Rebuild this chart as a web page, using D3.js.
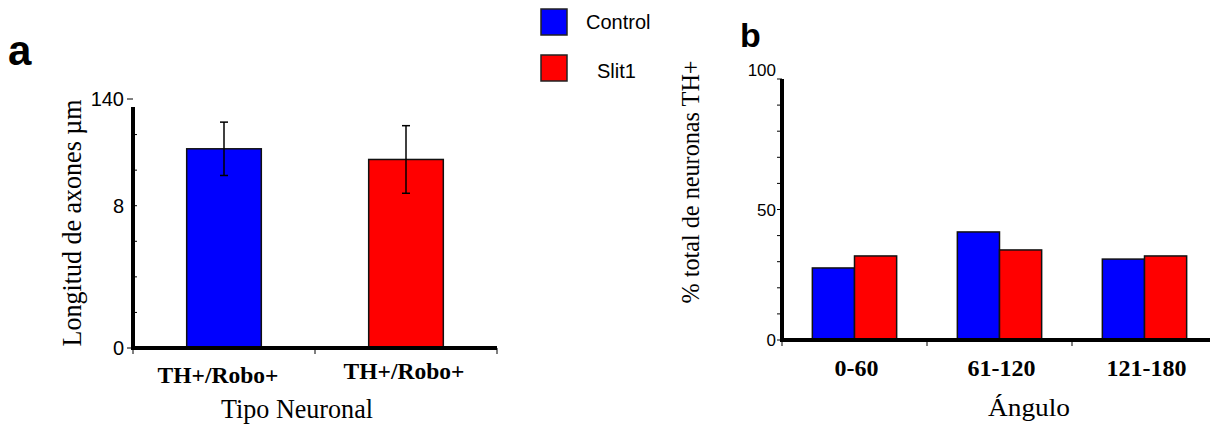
<!DOCTYPE html>
<html>
<head>
<meta charset="utf-8">
<script src="https://cdn.jsdelivr.net/npm/d3@7"></script>
<style>
  body { margin: 0; background: #fff; }
  text { fill: #000; }
</style>
</head>
<body>
<div id="chart"></div>
<script>
// Data
var seriesNames = ["Control", "Slit1"];
var seriesColors = ["#0000ff", "#ff0000"];

// panel a
var categoriesA = ["TH+/Robo+", "TH+/Robo+"];
var valuesA = [112, 106];
var errorsA = [15, 19];
var yTicksA = [0, 20, 40, 60, 80, 100, 120, 140];
var yTickLabelsA = ["0", "", "", "", "8", "", "", "140"];

// panel b
var categoriesB = ["0-60", "61-120", "121-180"];
var controlB = [27.6, 41.4, 31.0];
var slitB = [32.2, 34.5, 32.2];
var yTicksB = [0, 10, 20, 30, 40, 50, 60, 70, 80, 90, 100];
var yTickLabelsB = ["0", "", "", "", "", "50", "", "", "", "", "100"];

var serif = "'Liberation Serif', 'Times New Roman', serif";
var sans = "'Liberation Sans', Arial, sans-serif";

var svg = d3.select("#chart")
    .append("svg")
        .attr("width", 1210)
        .attr("height", 425);

// ---------- Panel a ----------
var xA = d3.scaleBand()
    .domain(d3.range(categoriesA.length))
    .range([133, 497]);

var yA = d3.scaleLinear()
    .domain([0, 140])
    .range([348, 99]);

var gA = svg.append("g");

// bars
var barW_A = xA.bandwidth() * 0.41;
gA.selectAll(".barA")
    .data(valuesA)
    .enter()
    .append("rect")
    .attr("class", "barA")
    .attr("x", function(d, i) { return xA(i) + xA.bandwidth() / 2 - barW_A / 2; })
    .attr("y", function(d) { return yA(d); })
    .attr("width", barW_A)
    .attr("height", function(d) { return yA(0) - yA(d); })
    .style("fill", function(d, i) { return seriesColors[i]; })
    .style("stroke", "#111")
    .style("stroke-width", 1.5);

// error bars
var errA = gA.selectAll(".errA")
    .data(valuesA)
    .enter()
    .append("g")
    .attr("class", "errA")
    .attr("transform", function(d, i) { return "translate(" + (xA(i) + xA.bandwidth() / 2) + ",0)"; });

errA.append("line")
    .attr("y1", function(d, i) { return yA(d + errorsA[i]); })
    .attr("y2", function(d, i) { return yA(d - errorsA[i]); })
    .style("stroke", "#000").style("stroke-width", 1.5);
errA.append("line")
    .attr("x1", -4).attr("x2", 4)
    .attr("y1", function(d, i) { return yA(d + errorsA[i]); })
    .attr("y2", function(d, i) { return yA(d + errorsA[i]); })
    .style("stroke", "#000").style("stroke-width", 1.5);
errA.append("line")
    .attr("x1", -4).attr("x2", 4)
    .attr("y1", function(d, i) { return yA(d - errorsA[i]); })
    .attr("y2", function(d, i) { return yA(d - errorsA[i]); })
    .style("stroke", "#000").style("stroke-width", 1.5);

// y ticks
gA.selectAll(".tickA")
    .data(yTicksA)
    .enter()
    .append("line")
    .attr("x1", function(d, i) { return yTickLabelsA[i] === "" || yTickLabelsA[i] === "8" ? 133 : 127; })
    .attr("x2", function(d, i) { return yTickLabelsA[i] === "" || yTickLabelsA[i] === "8" ? 137 : 133; })
    .attr("y1", function(d) { return yA(d); })
    .attr("y2", function(d) { return yA(d); })
    .style("stroke", "#000").style("stroke-width", 1);

gA.selectAll(".tickLabelA")
    .data(yTicksA)
    .enter()
    .append("text")
    .attr("x", 124)
    .attr("y", function(d) { return yA(d); })
    .attr("dy", "0.36em")
    .attr("text-anchor", "end")
    .style("font-family", sans)
    .style("font-size", "20px")
    .text(function(d, i) { return yTickLabelsA[i]; });

// axis lines
gA.append("line")
    .attr("x1", 133).attr("x2", 133)
    .attr("y1", yA(140) + 8).attr("y2", yA(0) + 2)
    .style("stroke", "#000").style("stroke-width", 4);
gA.append("line")
    .attr("x1", xA.range()[0] - 2).attr("x2", xA.range()[1])
    .attr("y1", yA(0)).attr("y2", yA(0))
    .style("stroke", "#000").style("stroke-width", 4);

// x ticks
gA.selectAll(".xtickA")
    .data([0, 1, 2])
    .enter()
    .append("line")
    .attr("x1", function(d) { return xA.range()[0] + d * xA.step(); })
    .attr("x2", function(d) { return xA.range()[0] + d * xA.step(); })
    .attr("y1", yA(0)).attr("y2", yA(0) + 6)
    .style("stroke", "#000").style("stroke-width", 1);

// category labels
gA.selectAll(".catA")
    .data(categoriesA)
    .enter()
    .append("text")
    .attr("x", function(d, i) { return xA(i) + xA.bandwidth() / 2 + (i === 0 ? -6 : -2); })
    .attr("y", function(d, i) { return i === 0 ? 383 : 379; })
    .attr("text-anchor", "middle")
    .style("font-family", serif)
    .style("font-weight", "bold")
    .style("font-size", "23.5px")
    .text(function(d) { return d; });

gA.append("text")
    .attr("x", 297).attr("y", 418)
    .attr("text-anchor", "middle")
    .attr("textLength", 152)
    .attr("lengthAdjust", "spacingAndGlyphs")
    .style("font-family", serif)
    .style("font-size", "27px")
    .text("Tipo Neuronal");

gA.append("text")
    .attr("transform", "translate(81,223) rotate(-90)")
    .attr("text-anchor", "middle")
    .attr("textLength", 247)
    .attr("lengthAdjust", "spacingAndGlyphs")
    .style("font-family", serif)
    .style("font-size", "27px")
    .text("Longitud de axones \u00b5m");

svg.append("text")
    .attr("x", 8).attr("y", 65)
    .style("font-family", sans)
    .style("font-weight", "bold")
    .style("font-size", "42px")
    .text("a");

// ---------- Legend ----------
var legend = svg.selectAll(".legend")
    .data(seriesNames)
    .enter()
    .append("g")
    .attr("class", "legend")
    .attr("transform", function(d, i) { return "translate(541," + (9 + i * 46) + ")"; });

legend.append("rect")
    .attr("width", 26).attr("height", 26)
    .style("fill", function(d, i) { return seriesColors[i]; })
    .style("stroke", "#222").style("stroke-width", 1.5);

legend.append("text")
    .attr("x", function(d, i) { return i === 0 ? 45 : 56; })
    .attr("y", function(d, i) { return i === 0 ? 20 : 23; })
    .style("font-family", sans)
    .style("font-size", "20px")
    .text(function(d) { return d; });

// ---------- Panel b ----------
var xB = d3.scaleBand()
    .domain(categoriesB)
    .range([782, 1217]);

var yB = d3.scaleLinear()
    .domain([0, 100])
    .range([340, 79]);

var xSub = d3.scaleBand()
    .domain(seriesNames)
    .range([0, xB.bandwidth()])
    .paddingInner(0)
    .paddingOuter(0.72);

var gB = svg.append("g");

var groupsB = gB.selectAll(".groupB")
    .data(categoriesB)
    .enter()
    .append("g")
    .attr("class", "groupB")
    .attr("transform", function(d) { return "translate(" + xB(d) + ",0)"; });

groupsB.selectAll("rect")
    .data(function(d, i) { return [controlB[i], slitB[i]]; })
    .enter()
    .append("rect")
    .attr("x", function(d, j) { return xSub(seriesNames[j]); })
    .attr("y", function(d) { return yB(d); })
    .attr("width", xSub.bandwidth())
    .attr("height", function(d) { return yB(0) - yB(d); })
    .style("fill", function(d, j) { return seriesColors[j]; })
    .style("stroke", "#111")
    .style("stroke-width", 1.5);

// y ticks
gB.selectAll(".tickB")
    .data(yTicksB)
    .enter()
    .append("line")
    .attr("x1", 777).attr("x2", 782)
    .attr("y1", function(d) { return yB(d); })
    .attr("y2", function(d) { return yB(d); })
    .style("stroke", "#000").style("stroke-width", 1);

gB.selectAll(".tickLabelB")
    .data(yTicksB)
    .enter()
    .append("text")
    .attr("x", 776)
    .attr("y", function(d) { return yB(d); })
    .attr("dy", function(d, i) { return i === yTicksB.length - 1 ? "-0.15em" : "0.36em"; })
    .attr("text-anchor", "end")
    .style("font-family", sans)
    .style("font-size", "17px")
    .text(function(d, i) { return yTickLabelsB[i]; });

// axis lines
gB.append("line")
    .attr("x1", 782).attr("x2", 782)
    .attr("y1", yB(100)).attr("y2", yB(0) + 2)
    .style("stroke", "#000").style("stroke-width", 4);
gB.append("line")
    .attr("x1", 780).attr("x2", xB.range()[1])
    .attr("y1", yB(0)).attr("y2", yB(0))
    .style("stroke", "#000").style("stroke-width", 4);

gB.selectAll(".xtickB")
    .data([0, 1, 2])
    .enter()
    .append("line")
    .attr("x1", function(d) { return xB.range()[0] + d * xB.step(); })
    .attr("x2", function(d) { return xB.range()[0] + d * xB.step(); })
    .attr("y1", yB(0)).attr("y2", yB(0) + 6)
    .style("stroke", "#000").style("stroke-width", 1);

gB.selectAll(".catB")
    .data(categoriesB)
    .enter()
    .append("text")
    .attr("x", function(d) { return xB(d) + xB.bandwidth() / 2 + 2; })
    .attr("y", 376)
    .attr("text-anchor", "middle")
    .style("font-family", serif)
    .style("font-weight", "bold")
    .style("font-size", "24px")
    .text(function(d) { return d; });

gB.append("text")
    .attr("x", 1029).attr("y", 416)
    .attr("text-anchor", "middle")
    .attr("textLength", 82)
    .attr("lengthAdjust", "spacingAndGlyphs")
    .style("font-family", serif)
    .style("font-size", "26px")
    .text("\u00c1ngulo");

gB.append("text")
    .attr("transform", "translate(699,182) rotate(-90)")
    .attr("text-anchor", "middle")
    .attr("textLength", 243)
    .attr("lengthAdjust", "spacingAndGlyphs")
    .style("font-family", serif)
    .style("font-size", "25px")
    .text("% total de neuronas TH+");

svg.append("text")
    .attr("x", 740).attr("y", 47)
    .style("font-family", sans)
    .style("font-weight", "bold")
    .style("font-size", "34px")
    .text("b");
</script>
</body>
</html>
